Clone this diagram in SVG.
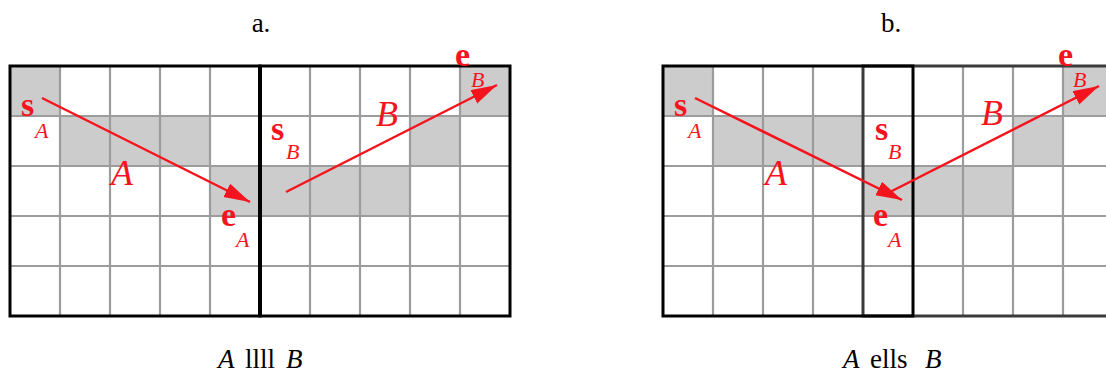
<svg xmlns="http://www.w3.org/2000/svg" width="1106" height="373" viewBox="0 0 1106 373">
<defs>
<style>
.cell{fill:#cccccc;stroke:none}
.gl{stroke:#9c9c9c;stroke-width:2.2;fill:none}
.bd{stroke:#000;stroke-width:3;fill:none}
.arr{stroke:#f5141e;stroke-width:2.5;fill:none;marker-end:url(#ah)}
text{font-family:"Liberation Serif","Times New Roman",serif}
.lb{fill:#f5141e}
.bold{font-weight:bold;font-size:34px}
.sub{font-style:italic;font-size:22px}
.big{font-style:italic;font-size:36px}
.cap{font-size:27px;fill:#000}
.it{font-style:italic}
</style>
<marker id="ah" markerUnits="userSpaceOnUse" markerWidth="28" markerHeight="16" refX="26" refY="7.5" orient="auto">
<path d="M0,0 L26,7.5 L0,15 Z" fill="#f5141e"/>
</marker>
</defs>
<rect width="1106" height="373" fill="#fff"/>

<g id="diagram-a">
<g id="a-shading">
<rect class="cell" x="10" y="66" width="50" height="50"/>
<rect class="cell" x="60" y="116" width="150" height="50"/>
<rect class="cell" x="210" y="166" width="200" height="50"/>
<rect class="cell" x="410" y="116" width="50" height="50"/>
<rect class="cell" x="460" y="66" width="50" height="50"/>
</g>
<g id="a-grid">
<path class="gl" d="M60,66V316M110,66V316M160,66V316M210,66V316M310,66V316M360,66V316M410,66V316M460,66V316M10,116H510M10,166H510M10,216H510M10,266H510"/>
<rect class="bd" x="10" y="66" width="250" height="250"/>
<rect class="bd" x="260" y="66" width="250" height="250"/>
<line x1="260" y1="66" x2="260" y2="316" stroke="#000" stroke-width="4"/>
</g>
</g>

<g id="diagram-b">
<g id="b-shading">
<rect class="cell" x="663" y="66" width="50" height="50"/>
<rect class="cell" x="713" y="116" width="150" height="50"/>
<rect class="cell" x="863" y="166" width="150" height="50"/>
<rect class="cell" x="1013" y="116" width="50" height="50"/>
<rect class="cell" x="1063" y="66" width="50" height="50"/>
</g>
<g id="b-grid">
<path class="gl" d="M713,66V316M763,66V316M813,66V316M963,66V316M1013,66V316M1063,66V316M663,116H1113M663,166H1113M663,216H1113M663,266H1113"/>
<rect x="863" y="66" width="250" height="250" fill="none" stroke="#3a3a3a" stroke-width="3"/>
<rect class="bd" x="663" y="66" width="250" height="250"/>
</g>
</g>

<g id="connectors">
<line class="arr" x1="42" y1="98" x2="250" y2="202"/>
<line class="arr" x1="286" y1="192" x2="497" y2="85"/>
<line class="arr" x1="695" y1="98" x2="902" y2="200"/>
<line class="arr" x1="888" y1="193" x2="1099" y2="86"/>
</g>

<g id="labels-a">
<text class="lb bold" x="21" y="116">s</text><text class="lb sub" x="35" y="138">A</text>
<text class="lb bold" x="271" y="140">s</text><text class="lb sub" x="286" y="159">B</text>
<text class="lb bold" x="221" y="226">e</text><text class="lb sub" x="236" y="247">A</text>
<text class="lb bold" x="455" y="66">e</text><text class="lb sub" x="471" y="87">B</text>
<text class="lb big" x="111" y="185">A</text>
<text class="lb big" x="376" y="126">B</text>
</g>
<g id="labels-b">
<text class="lb bold" x="674" y="116">s</text><text class="lb sub" x="688" y="138">A</text>
<text class="lb bold" x="875" y="140">s</text><text class="lb sub" x="888" y="159">B</text>
<text class="lb bold" x="873" y="226">e</text><text class="lb sub" x="888" y="247">A</text>
<text class="lb bold" x="1058" y="66">e</text><text class="lb sub" x="1073" y="87">B</text>
<text class="lb big" x="765" y="185">A</text>
<text class="lb big" x="981" y="125">B</text>
</g>
<g id="titles">
<text class="cap" x="261" y="32" text-anchor="middle">a.</text>
<text class="cap" x="891" y="32" text-anchor="middle">b.</text>
<text class="cap" y="368"><tspan class="it" x="218">A</tspan><tspan x="245">llll</tspan><tspan class="it" x="286">B</tspan></text>
<text class="cap" y="368"><tspan class="it" x="843">A</tspan><tspan x="870">ells</tspan><tspan class="it" x="925">B</tspan></text>
</g>
</svg>
